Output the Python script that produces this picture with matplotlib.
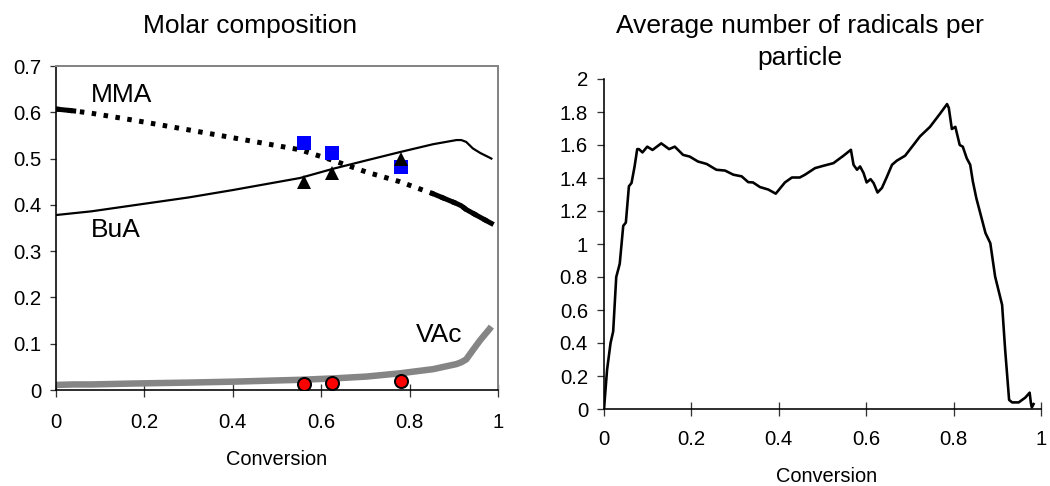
import matplotlib
matplotlib.use("Agg")
import matplotlib.pyplot as plt
import numpy as np

plt.rcParams['font.family'] = ['Liberation Sans', 'DejaVu Sans']

# ---------------- Left chart data: molar composition ----------------
conv_model = [0.0, 0.04, 0.08, 0.175, 0.30, 0.40, 0.552, 0.627, 0.702, 0.778, 0.853, 0.906, 0.917, 0.928, 0.943, 0.96, 0.981, 0.985]
mma_model = [0.607, 0.603, 0.598, 0.583, 0.562, 0.545, 0.519, 0.496, 0.471, 0.450, 0.424, 0.403, 0.398, 0.390, 0.382, 0.373, 0.362, 0.360]
bua_model = [0.378, 0.382, 0.386, 0.399, 0.416, 0.432, 0.458, 0.478, 0.496, 0.514, 0.531, 0.540, 0.540, 0.536, 0.522, 0.512, 0.502, 0.500]
vac_model = [0.011, 0.012, 0.012, 0.014, 0.016, 0.018, 0.022, 0.025, 0.029, 0.036, 0.045, 0.056, 0.060, 0.066, 0.086, 0.108, 0.132, 0.137]

conv_exp = [0.561, 0.625, 0.781]
mma_exp = [0.534, 0.513, 0.482]
bua_exp = [0.450, 0.468, 0.500]
vac_exp = [0.014, 0.016, 0.019]

left_xticks = [0, 0.2, 0.4, 0.6, 0.8, 1]
left_xticklabels = ['0', '0.2', '0.4', '0.6', '0.8', '1']
left_yticks = [0, 0.1, 0.2, 0.3, 0.4, 0.5, 0.6, 0.7]
left_yticklabels = ['0', '0.1', '0.2', '0.3', '0.4', '0.5', '0.6', '0.7']

# ---------------- Right chart data: radicals per particle ----------------
conv_rad = [0.0, 0.007, 0.015, 0.021, 0.028, 0.036, 0.044, 0.050, 0.057, 0.063, 0.070, 0.076,
            0.080, 0.088, 0.099, 0.111, 0.131, 0.149, 0.162, 0.181, 0.196, 0.215, 0.235, 0.257,
            0.277, 0.296, 0.315, 0.330, 0.341, 0.357, 0.376, 0.393, 0.414, 0.430, 0.448, 0.460,
            0.483, 0.502, 0.525, 0.548, 0.565, 0.571, 0.579, 0.586, 0.594, 0.601, 0.610, 0.617,
            0.626, 0.636, 0.647, 0.659, 0.670, 0.689, 0.708, 0.723, 0.746, 0.769, 0.785, 0.789,
            0.796, 0.804, 0.814, 0.821, 0.830, 0.838, 0.844, 0.852, 0.861, 0.873, 0.884, 0.895,
            0.911, 0.918, 0.927, 0.934, 0.949, 0.964, 0.974, 0.977, 0.979, 0.983]
radicals = [0.0, 0.237, 0.40, 0.47, 0.80, 0.88, 1.11, 1.13, 1.35, 1.37, 1.47, 1.575,
            1.575, 1.555, 1.59, 1.57, 1.61, 1.575, 1.59, 1.54, 1.53, 1.50, 1.485, 1.45,
            1.445, 1.42, 1.41, 1.375, 1.373, 1.345, 1.33, 1.305, 1.373, 1.403, 1.403, 1.42,
            1.46, 1.474, 1.49, 1.535, 1.571, 1.48, 1.45, 1.47, 1.43, 1.373, 1.393, 1.369,
            1.312, 1.34, 1.405, 1.48, 1.505, 1.535, 1.60, 1.652, 1.71, 1.79, 1.848, 1.825,
            1.697, 1.71, 1.60, 1.59, 1.52, 1.48, 1.38, 1.278, 1.187, 1.066, 1.005, 0.803,
            0.631, 0.358, 0.055, 0.040, 0.040, 0.069, 0.099, 0.034, 0.010, 0.030]

right_xticks = [0, 0.2, 0.4, 0.6, 0.8, 1]
right_xticklabels = ['0', '0.2', '0.4', '0.6', '0.8', '1']
right_yticks = [0, 0.2, 0.4, 0.6, 0.8, 1.0, 1.2, 1.4, 1.6, 1.8, 2.0]
right_yticklabels = ['0', '0.2', '0.4', '0.6', '0.8', '1', '1.2', '1.4', '1.6', '1.8', '2']

W, H = 1050, 486
fig = plt.figure(figsize=(W / 100, H / 100), dpi=100)

TICK_FS = 14.7
GRAY = '#858585'

def px(v):
    return v * 72 / 100  # pixels -> points

# ---------------- Left axes ----------------
axL = fig.add_axes([56 / W, 1 - 390 / H, 442 / W, 324 / H])
cm = np.array(conv_model)
mm = np.array(mma_model)

axL.plot(conv_model, vac_model, color=GRAY, lw=px(6.5), solid_capstyle='butt', zorder=2)
axL.plot(conv_exp, vac_exp, linestyle='none', marker='o', ms=px(13), mfc='#ff0000',
         mec='black', mew=px(2), zorder=5)

axL.plot(conv_model, bua_model, color='black', lw=px(2.2), zorder=3)

axL.plot(conv_model, mma_model, color='black', lw=px(5),
         linestyle=(0, (0.9, 1.5)), dash_capstyle='butt', zorder=3)
sel_start = cm <= 0.04
sel_end = cm >= 0.853
axL.plot(cm[sel_start], mm[sel_start], color='black', lw=px(5), zorder=3)
axL.plot(cm[sel_end], mm[sel_end], color='black', lw=px(5), zorder=3)

axL.plot(conv_exp, mma_exp, linestyle='none', marker='s', ms=px(14), mfc='#0000ff',
         mec='#0000ff', mew=0, zorder=6)
axL.plot(conv_exp, bua_exp, linestyle='none', marker='^', ms=px(14), mfc='black',
         mec='black', mew=0, zorder=7)

axL.text(0.08, 0.623, 'MMA', fontsize=19, ha='left', va='baseline')
axL.text(0.08, 0.330, 'BuA', fontsize=19, ha='left', va='baseline')
axL.text(0.815, 0.104, 'VAc', fontsize=19, ha='left', va='baseline')

axL.set_xlim(0, 1)
axL.set_ylim(0, 0.7)
axL.set_xticks(left_xticks)
axL.set_xticklabels(left_xticklabels)
axL.set_yticks(left_yticks)
axL.set_yticklabels(left_yticklabels)
axL.tick_params(axis='x', direction='inout', length=px(13), width=px(1.3), color='#333333',
                labelsize=TICK_FS, pad=px(16))
axL.tick_params(axis='y', direction='out', length=px(6), width=px(1.3), color='#333333',
                labelsize=TICK_FS, pad=px(9))
for s in ['left', 'bottom']:
    axL.spines[s].set_color('black')
    axL.spines[s].set_linewidth(px(1.6))
for s in ['top', 'right']:
    axL.spines[s].set_color(GRAY)
    axL.spines[s].set_linewidth(px(2))

# ---------------- Right axes ----------------
axR = fig.add_axes([604 / W, 1 - 409 / H, 437 / W, 330 / H])
axR.plot(conv_rad, radicals, color='black', lw=px(2.6), zorder=3)
axR.set_xlim(0, 1)
axR.set_ylim(0, 2)
axR.set_xticks(right_xticks)
axR.set_xticklabels(right_xticklabels)
axR.set_yticks(right_yticks)
axR.set_yticklabels(right_yticklabels)
axR.tick_params(axis='x', direction='inout', length=px(14), width=px(1.3), color='#333333',
                labelsize=TICK_FS, pad=px(14))
axR.tick_params(axis='y', direction='out', length=px(7), width=px(1.3), color='#333333',
                labelsize=TICK_FS, pad=px(9))
for s in ['top', 'right']:
    axR.spines[s].set_visible(False)
for s in ['left', 'bottom']:
    axR.spines[s].set_color('black')
    axR.spines[s].set_linewidth(px(1.6))

# ---------------- Titles and axis labels ----------------
fig.text(250 / W, 1 - 33 / H, 'Molar composition', fontsize=19, ha='center', va='baseline')
fig.text(800 / W, 1 - 33 / H, 'Average number of radicals per', fontsize=19, ha='center', va='baseline')
fig.text(800 / W, 1 - 65 / H, 'particle', fontsize=19, ha='center', va='baseline')
fig.text(277 / W, 1 - 465 / H, 'Conversion', fontsize=14.4, ha='center', va='baseline')
fig.text(827 / W, 1 - 482 / H, 'Conversion', fontsize=14.4, ha='center', va='baseline')

fig.savefig('out.png', dpi=100)
